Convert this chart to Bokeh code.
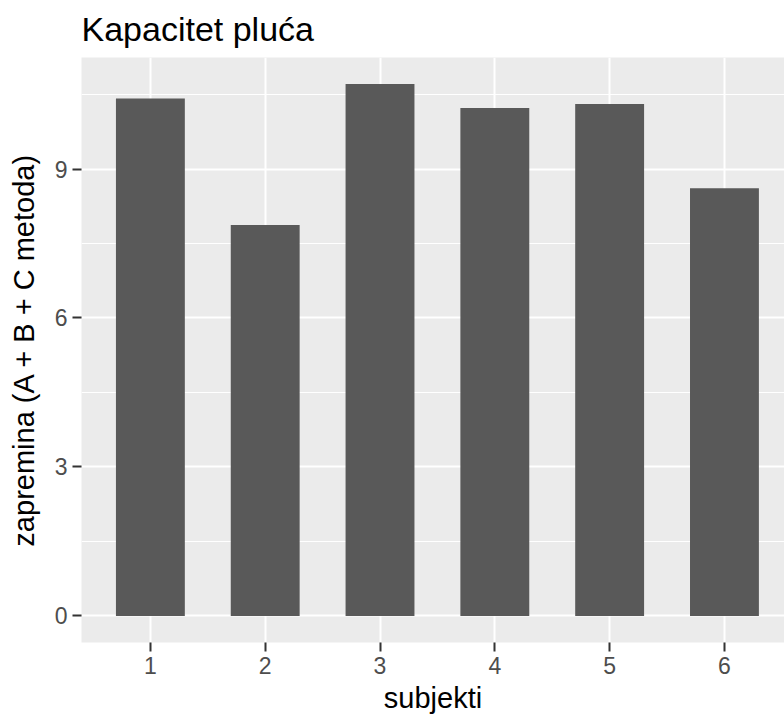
from bokeh.plotting import figure
from bokeh.models import Range1d, FixedTicker
from bokeh.embed import file_html
from bokeh.resources import INLINE

# Data
subjects = ["1", "2", "3", "4", "5", "6"]
volumes = [10.42, 7.87, 10.71, 10.23, 10.31, 8.61]
y_ticks = [0, 3, 6, 9]
y_minor = [1.5, 4.5, 7.5, 10.5]
title_text = "Kapacitet pluća"
x_title = "subjekti"
y_title = "zapremina (A + B + C metoda)"

x_pos = list(range(1, len(subjects) + 1))
vmax = max(volumes)

FONT = "Liberation Sans"

p = figure(width=784, height=722, output_backend="svg", toolbar_location=None,
           x_range=Range1d(0.4, 6.523), y_range=Range1d(-0.05 * vmax, 1.05 * vmax),
           min_border_left=81, min_border_right=0, min_border_top=57, min_border_bottom=80)

p.vbar(x=x_pos, top=volumes, width=0.6, bottom=0, fill_color="#595959", line_color=None)

p.background_fill_color = "#EBEBEB"
p.border_fill_color = "white"
p.outline_line_color = None

p.title.text = title_text
p.title.text_font = FONT
p.title.text_font_size = "34px"
p.title.text_font_style = "normal"
p.title.text_color = "black"
p.title.standoff = 15
p.title.vertical_align = "top"

# x axis
p.xaxis.ticker = FixedTicker(ticks=x_pos)
p.xaxis.major_label_overrides = {x: s for x, s in zip(x_pos, subjects)}
p.xaxis.axis_label = x_title
# y axis
p.yaxis.ticker = FixedTicker(ticks=y_ticks, minor_ticks=y_minor)
p.yaxis.axis_label = y_title

for ax in (p.xaxis[0], p.yaxis[0]):
    ax.axis_line_color = None
    ax.major_tick_line_color = "#333333"
    ax.major_tick_line_width = 2
    ax.major_tick_out = 9
    ax.major_tick_in = 0
    ax.minor_tick_line_color = None
    ax.major_label_text_font = FONT
    ax.major_label_text_font_size = "23px"
    ax.major_label_text_color = "#4D4D4D"
    ax.axis_label_text_font = FONT
    ax.axis_label_text_font_size = "29px"
    ax.axis_label_text_font_style = "normal"
    ax.axis_label_text_color = "black"

p.xaxis.major_label_standoff = 5
p.xaxis.axis_label_standoff = 5
p.yaxis.major_label_standoff = 5
p.yaxis.axis_label_standoff = 12

p.xgrid.grid_line_color = "white"
p.xgrid.grid_line_width = 2
p.ygrid.grid_line_color = "white"
p.ygrid.grid_line_width = 2
p.ygrid.minor_grid_line_color = "white"
p.ygrid.minor_grid_line_width = 1

open("out.html", "w").write(file_html(p, INLINE))
